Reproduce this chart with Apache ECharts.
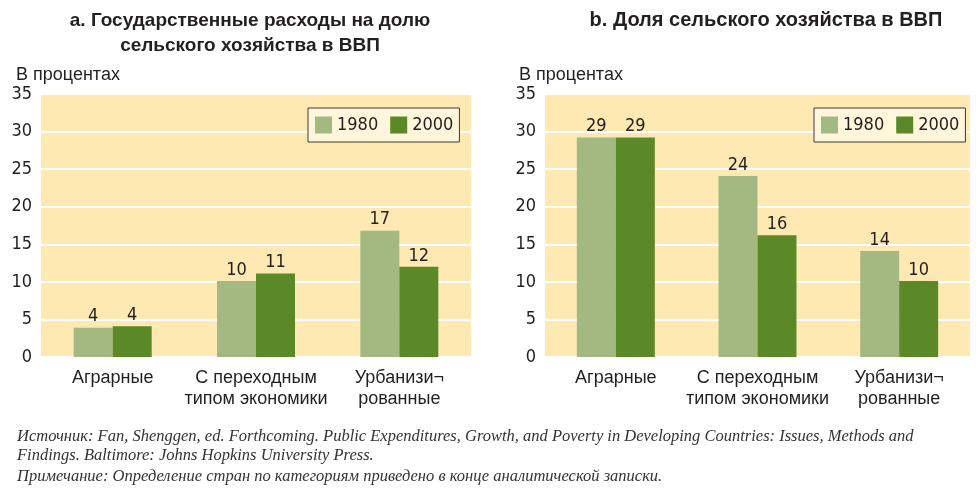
<!DOCTYPE html>
<html>
<head>
<meta charset="utf-8">
<script src="https://cdn.jsdelivr.net/npm/echarts@6/dist/echarts.min.js"></script>
<style>
  html, body { margin: 0; padding: 0; background: #fff; }
  #chart { width: 976px; height: 489px; }
</style>
</head>
<body>
<div id="chart"></div>
<script>
const categories = ['Аграрные', 'С переходным\nтипом экономики', 'Урбанизи¬\nрованные'];
const spend1980 = [3.9, 10.1, 16.8];
const spend2000 = [4.1, 11.1, 12.0];
const share1980 = [29.2, 24.1, 14.1];
const share2000 = [29.2, 16.2, 10.1];
const yTicks = [0, 5, 10, 15, 20, 25, 30, 35];

const c1980 = '#a4b982';
const c2000 = '#5b8927';
const plotBg = '#fde9b1';
const ink = '#231f20';
const numFont = '"DejaVu Sans Condensed", sans-serif';
const textFont = '"Liberation Sans", Arial, sans-serif';
const noteFont = '"Liberation Serif", serif';

const chart = echarts.init(document.getElementById('chart'));

const makeBar = (name, data, color, idx) => ({
    name: name,
    type: 'bar',
    xAxisIndex: idx,
    yAxisIndex: idx,
    data: data,
    barWidth: 39,
    barGap: '0%',
    itemStyle: { color: color },
    label: {
        show: true,
        position: 'top',
        distance: 2,
        color: ink,
        fontFamily: numFont,
        fontSize: 18,
        formatter: p => Math.round(p.value)
    }
});

const makeX = (idx) => ({
    type: 'category',
    gridIndex: idx,
    data: categories,
    axisLine: { show: false },
    axisTick: { show: false },
    axisLabel: {
        interval: 0,
        color: ink,
        fontFamily: textFont,
        fontSize: 18,
        lineHeight: 21,
        margin: 11
    }
});

const makeY = (idx) => ({
    type: 'value',
    gridIndex: idx,
    min: 0,
    max: 35,
    interval: 5,
    axisLine: { show: false },
    axisTick: { show: false },
    axisLabel: {
        color: ink,
        fontFamily: numFont,
        fontSize: 18,
        margin: 9,
        formatter: v => yTicks.includes(v) ? String(v) : ''
    },
    splitLine: { show: true, lineStyle: { color: '#ffffff', width: 2 } }
});

const legendBox = (left) => ({
    data: ['1980', '2000'],
    left: left,
    top: 108,
    orient: 'horizontal',
    backgroundColor: '#fff6dc',
    borderColor: '#3a3a3a',
    borderWidth: 1,
    borderRadius: 0,
    padding: [8, 6, 8, 7],
    itemWidth: 17,
    itemHeight: 17,
    itemGap: 12,
    icon: 'rect',
    textStyle: { color: ink, fontFamily: numFont, fontSize: 18 }
});

chart.setOption({
    animation: false,
    title: [
        {
            text: 'a. Государственные расходы на долю\nсельского хозяйства в ВВП',
            left: 245, top: 3, textAlign: 'center',
            textStyle: { color: ink, fontFamily: textFont, fontSize: 19, fontWeight: 'bold', lineHeight: 25 }
        },
        {
            text: 'b. Доля сельского хозяйства в ВВП',
            left: 761, top: 3, textAlign: 'center',
            textStyle: { color: ink, fontFamily: textFont, fontSize: 20, fontWeight: 'bold', lineHeight: 25 }
        },
        {
            text: 'В процентах', left: 11, top: 61,
            textStyle: { color: ink, fontFamily: textFont, fontSize: 18, fontWeight: 'normal' }
        },
        {
            text: 'В процентах', left: 514, top: 61,
            textStyle: { color: ink, fontFamily: textFont, fontSize: 18, fontWeight: 'normal' }
        },
        {
            text: 'Источник: Fan, Shenggen, ed. Forthcoming. Public Expenditures, Growth, and Poverty in Developing Countries: Issues, Methods and\nFindings. Baltimore: Johns Hopkins University Press.',
            left: 12, top: 422,
            textStyle: { color: '#333', fontFamily: noteFont, fontStyle: 'italic', fontSize: 16.5, fontWeight: 'normal', lineHeight: 19 }
        },
        {
            text: 'Примечание: Определение стран по категориям приведено в конце аналитической записки.',
            left: 12, top: 463,
            textStyle: { color: '#333', fontFamily: noteFont, fontStyle: 'italic', fontSize: 16.5, fontWeight: 'normal' }
        }
    ],
    legend: [legendBox(308), legendBox(814)],
    grid: [
        { left: 41, top: 94, width: 430, height: 263, backgroundColor: plotBg, show: true, borderWidth: 0 },
        { left: 545, top: 94, width: 425, height: 263, backgroundColor: plotBg, show: true, borderWidth: 0 }
    ],
    xAxis: [makeX(0), makeX(1)],
    yAxis: [makeY(0), makeY(1)],
    series: [
        makeBar('1980', spend1980, c1980, 0),
        makeBar('2000', spend2000, c2000, 0),
        makeBar('1980', share1980, c1980, 1),
        makeBar('2000', share2000, c2000, 1)
    ]
});
</script>
</body>
</html>
